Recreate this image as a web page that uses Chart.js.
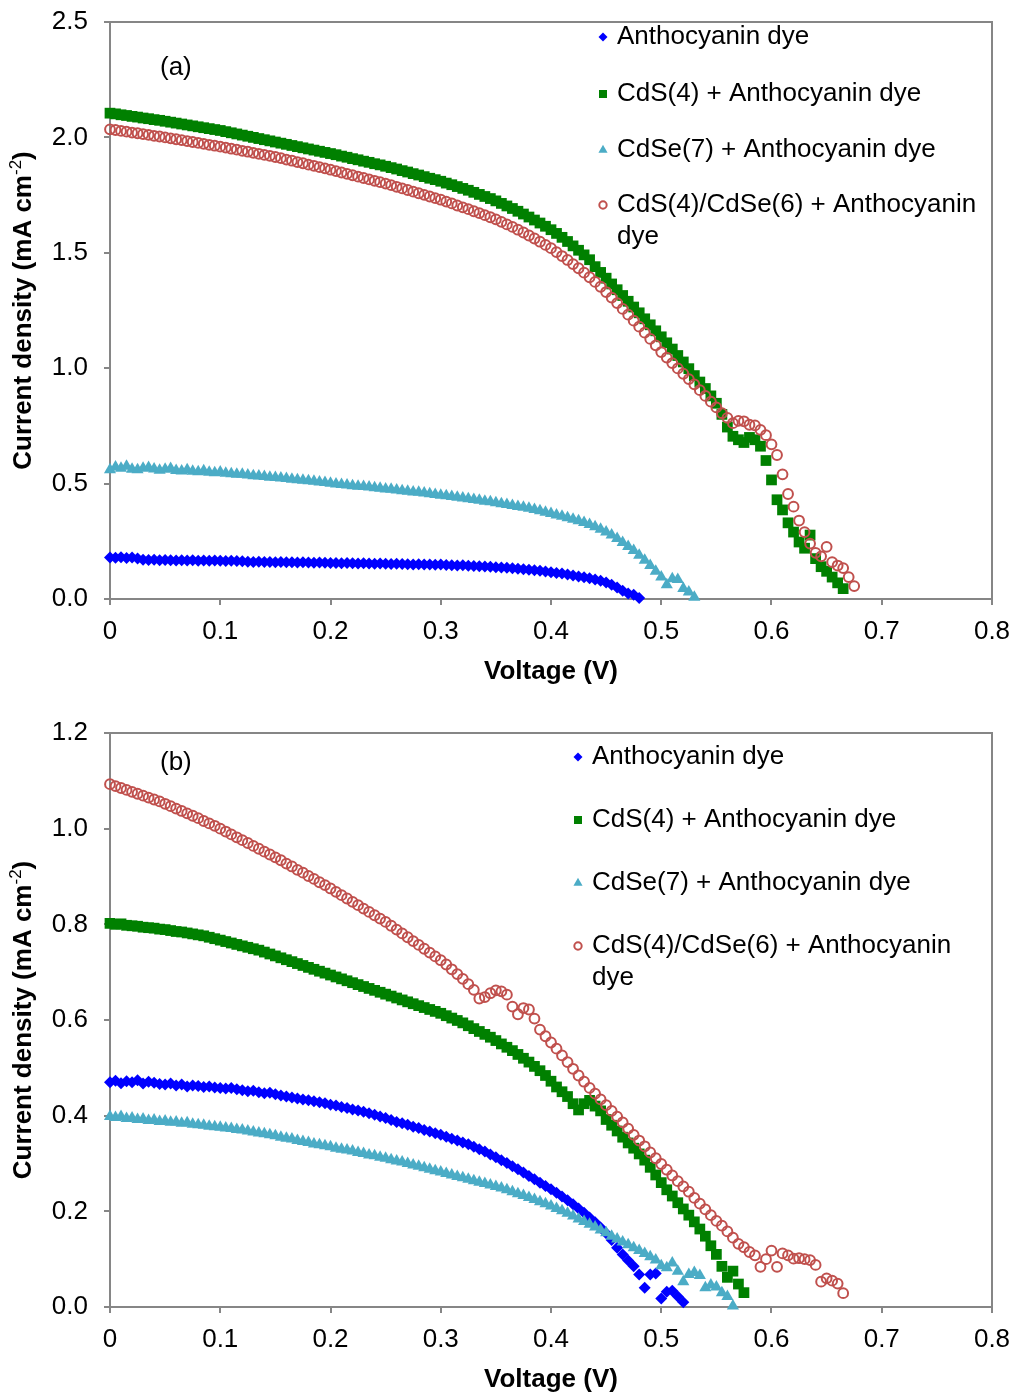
<!DOCTYPE html>
<html>
<head>
<meta charset="utf-8">
<script src="https://cdn.jsdelivr.net/npm/chart.js@4.4.0/dist/chart.umd.min.js"></script>
<style>
  html, body { margin: 0; background: #fff; overflow: hidden; }
  canvas { display: block; }
  #chartA { margin-top: -10px; }
</style>
</head>
<body>
<canvas id="chartA" width="1022" height="710"></canvas>
<canvas id="chartB" width="1022" height="695"></canvas>
<script>
// sweep voltage (V), shared by every series
const voltage = [0,0.005,0.01,0.015,0.02,0.025,0.03,0.035,0.04,0.045,0.05,0.055,0.06,0.065,0.07,0.075,0.08,0.085,0.09,0.095,
  0.1,0.105,0.11,0.115,0.12,0.125,0.13,0.135,0.14,0.145,0.15,0.155,0.16,0.165,0.17,0.175,0.18,0.185,0.19,0.195,
  0.2,0.205,0.21,0.215,0.22,0.225,0.23,0.235,0.24,0.245,0.25,0.255,0.26,0.265,0.27,0.275,0.28,0.285,0.29,0.295,
  0.3,0.305,0.31,0.315,0.32,0.325,0.33,0.335,0.34,0.345,0.35,0.355,0.36,0.365,0.37,0.375,0.38,0.385,0.39,0.395,
  0.4,0.405,0.41,0.415,0.42,0.425,0.43,0.435,0.44,0.445,0.45,0.455,0.46,0.465,0.47,0.475,0.48,0.485,0.49,0.495,
  0.5,0.505,0.51,0.515,0.52,0.525,0.53,0.535,0.54,0.545,0.55,0.555,0.56,0.565,0.57,0.575,0.58,0.585,0.59,0.595,
  0.6,0.605,0.61,0.615,0.62,0.625,0.63,0.635,0.64,0.645,0.65,0.655,0.66,0.665,0.67,0.675];

const seriesLabels = ['Anthocyanin dye', 'CdS(4) + Anthocyanin dye', 'CdSe(7) + Anthocyanin dye', 'CdS(4)/CdSe(6) + Anthocyanin dye'];
const xTickLabels = ['0', '0.1', '0.2', '0.3', '0.4', '0.5', '0.6', '0.7', '0.8'];
const yTickLabelsA = ['0.0', '0.5', '1.0', '1.5', '2.0', '2.5'];
const yTickLabelsB = ['0.0', '0.2', '0.4', '0.6', '0.8', '1.0', '1.2'];

// panel (a) current density, mA cm-2
const aAnthocyanin = [0.180,0.179,0.181,0.178,0.180,0.176,
  0.170,0.169,0.170,0.168,0.169,0.168,0.167,0.168,0.167,0.168,0.166,0.167,0.166,0.167,0.166,0.165,0.166,0.165,0.164,
  0.161,0.160,0.161,0.160,0.160,0.159,0.160,0.159,0.159,0.158,0.159,0.158,0.157,0.158,0.157,0.156,
  0.156,0.155,0.156,0.155,0.154,0.155,0.154,0.153,0.154,0.153,0.152,0.153,0.152,0.151,0.150,0.151,0.150,0.149,0.148,0.149,
  0.147,0.146,0.145,0.146,0.144,0.143,0.142,0.141,0.140,0.138,
  0.136,0.135,0.133,0.131,0.129,0.127,0.125,
  0.122,0.119,0.116,0.113,0.110,0.106,0.102,
  0.098,0.094,0.090,0.085,0.079,0.072,
  0.062,0.050,0.036,0.024,0.018,0.004];
const aCds = [2.105,2.102,2.098,2.095,2.091,2.088,2.084,2.081,2.077,2.074,2.070,
  2.066,2.062,2.058,2.054,2.050,2.046,2.042,2.038,2.034,2.030,
  2.025,2.020,2.015,2.010,2.005,2.000,1.995,1.990,1.985,1.980,
  1.975,1.970,1.965,1.960,1.955,1.950,1.945,1.940,1.935,1.930,
  1.925,1.919,1.914,1.908,1.903,1.897,1.892,1.886,1.881,1.875,
  1.869,1.863,1.856,1.850,1.843,1.837,1.830,1.823,1.817,1.810,
  1.802,1.795,1.787,1.779,1.771,1.762,1.753,1.744,1.735,1.725,
  1.714,1.703,1.692,1.680,1.668,1.655,1.642,1.629,1.615,1.600,
  1.584,1.567,1.549,1.530,1.511,1.491,1.470,1.440,1.415,1.390,
  1.365,1.340,1.315,1.290,1.265,1.240,1.214,1.188,1.162,1.136,
  1.110,1.083,1.055,1.027,0.998,0.968,0.940,0.912,0.880,0.848,
  0.800,0.745,0.705,0.690,0.678,0.700,0.690,0.662,0.600,0.516,
  0.430,0.386,0.330,0.290,0.247,0.220,0.277,0.175,0.140,0.120,0.095,0.070,0.045];
const aCdse = [0.560,0.572,0.566,0.575,0.562,0.560,0.566,0.570,0.563,0.558,0.562,0.565,0.557,0.555,0.560,0.553,0.551,0.556,0.549,0.547,0.550,
  0.545,0.543,0.540,0.541,0.537,0.534,0.533,0.531,0.528,0.526,0.524,0.522,0.519,0.517,0.515,0.512,0.510,0.507,0.505,0.502,
  0.498,0.496,0.494,0.491,0.489,0.487,0.485,0.482,0.480,0.477,0.475,0.472,0.469,0.467,0.464,0.462,0.459,0.456,0.453,0.450,
  0.447,0.444,0.441,0.438,0.434,0.431,0.428,0.424,0.421,0.417,
  0.413,0.409,0.405,0.401,0.397,0.393,0.388,
  0.382,0.376,0.370,0.364,0.358,0.352,0.346,
  0.339,0.331,0.323,0.313,0.302,0.290,
  0.277,0.262,0.245,0.228,0.210,0.190,
  0.168,0.145,0.120,0.095,0.062,0.088,
  0.085,0.045,0.030,0.008];
const aCdsCdse = [2.035,2.032,2.028,2.025,2.021,2.018,2.014,2.011,2.007,2.004,2.000,
  1.996,1.992,1.988,1.984,1.980,1.976,1.972,1.968,1.964,1.960,
  1.956,1.951,1.947,1.942,1.938,1.933,1.929,1.924,1.920,1.915,
  1.910,1.904,1.899,1.893,1.888,1.882,1.877,1.871,1.866,1.860,
  1.854,1.848,1.842,1.836,1.830,1.824,1.818,1.812,1.806,1.800,
  1.793,1.786,1.779,1.772,1.765,1.758,1.751,1.744,1.737,1.730,
  1.722,1.714,1.705,1.697,1.689,1.680,1.672,1.663,1.654,1.645,
  1.634,1.623,1.612,1.600,1.588,1.575,1.562,1.548,1.534,1.520,
  1.503,1.486,1.469,1.451,1.433,1.414,1.394,1.374,1.353,1.330,
  1.306,1.282,1.257,1.232,1.206,1.180,1.154,1.127,1.099,1.070,
  1.046,1.022,0.999,0.976,0.953,0.930,
  0.905,0.880,0.855,0.830,
  0.805,0.785,0.762,0.772,0.770,0.755,0.752,0.733,0.710,0.670,
  0.624,0.540,0.455,0.400,0.340,0.290,0.240,0.200,0.185,0.226,
  0.160,0.145,0.134,0.095,0.056];

// panel (b) current density, mA cm-2
const bAnthocyanin = [0.470,0.473,0.468,0.472,0.470,0.474,0.467,0.471,0.469,0.466,0.465,
  0.467,0.463,0.465,0.461,0.463,0.462,0.460,0.461,0.459,0.458,
  0.457,0.458,0.455,0.453,0.451,0.452,0.449,0.447,0.448,0.445,
  0.442,0.440,0.438,0.436,0.434,0.432,0.430,0.428,0.426,0.423,
  0.421,0.418,0.416,0.413,0.411,0.408,0.405,0.402,0.398,0.395,
  0.391,0.387,0.384,0.381,0.377,0.374,0.370,0.367,0.363,0.360,
  0.356,0.352,0.348,0.344,0.340,0.335,0.330,0.325,0.319,0.313,
  0.307,0.301,0.294,0.288,0.281,0.274,0.267,0.260,0.253,0.246,
  0.239,0.231,0.223,0.215,0.206,0.197,0.187,0.177,0.166,0.154,
  0.140,0.124,0.110,0.097,0.085,0.068,0.040,0.068,0.070,0.018,
  0.032,0.034,0.022,0.010];
const bCds = [0.802,0.800,0.801,0.798,0.797,0.796,0.794,0.793,0.792,0.790,0.789,
  0.787,0.785,0.784,0.782,0.780,0.778,0.776,0.773,0.770,0.767,
  0.764,0.761,0.758,0.755,0.752,0.749,0.746,0.742,0.738,0.734,
  0.730,0.726,0.722,0.718,0.714,0.710,0.706,0.702,0.698,0.694,
  0.690,0.686,0.682,0.678,0.674,0.670,0.666,0.662,0.658,0.654,
  0.650,0.646,0.642,0.638,0.634,0.630,0.626,0.622,0.618,0.614,
  0.609,0.604,0.599,0.594,0.588,0.582,0.576,0.570,0.564,0.557,
  0.550,0.543,0.536,0.528,0.520,0.512,0.503,0.494,0.484,0.472,
  0.460,0.450,0.440,0.425,0.412,0.425,0.432,0.420,0.410,0.392,
  0.380,0.368,0.355,0.343,0.332,0.320,0.307,0.292,0.276,0.260,
  0.245,0.232,0.218,0.205,0.192,0.178,0.163,0.148,0.128,0.110,
  0.085,0.062,0.075,0.048,0.030];
const bCdse = [0.398,0.396,0.398,0.394,0.395,0.392,0.393,0.390,0.391,0.388,0.389,
  0.386,0.387,0.384,0.385,0.382,0.381,0.380,0.378,0.377,0.376,
  0.374,0.373,0.371,0.370,0.368,0.366,0.364,0.362,0.360,0.358,
  0.355,0.353,0.351,0.348,0.346,0.344,0.341,0.339,0.337,0.335,
  0.332,0.330,0.328,0.326,0.323,0.321,0.318,0.316,0.313,0.311,
  0.308,0.305,0.303,0.300,0.297,0.294,0.291,0.288,0.285,0.282,
  0.279,0.276,0.273,0.270,0.267,0.264,0.261,0.258,0.255,0.252,
  0.249,0.245,0.241,0.237,0.233,0.229,0.225,0.220,0.216,0.211,
  0.206,0.201,0.196,0.190,0.184,0.179,0.173,0.167,0.161,0.155,
  0.148,0.142,0.136,0.130,0.124,0.118,0.112,0.105,0.098,0.086,
  0.082,0.092,0.075,0.053,0.068,0.072,0.066,0.040,0.046,0.042,0.030,0.022,0.002];
const bCdsCdse = [1.093,1.089,1.085,1.081,1.077,1.073,1.069,1.065,1.061,1.057,1.052,
  1.047,1.042,1.037,1.032,1.027,1.022,1.016,1.011,1.006,1.000,
  0.994,0.988,0.982,0.976,0.970,0.964,0.958,0.952,0.946,0.940,
  0.934,0.927,0.921,0.914,0.908,0.901,0.895,0.888,0.882,0.875,
  0.868,0.861,0.854,0.847,0.840,0.833,0.826,0.819,0.812,0.805,
  0.797,0.789,0.781,0.773,0.765,0.757,0.749,0.741,0.733,0.725,
  0.716,0.706,0.696,0.686,0.675,0.663,0.645,0.648,0.656,0.662,
  0.660,0.653,0.628,0.612,0.625,0.622,0.603,0.580,0.566,0.553,
  0.540,0.526,0.512,0.498,0.484,0.471,0.458,0.446,0.434,0.422,
  0.410,0.398,0.386,0.373,0.360,0.348,0.336,0.323,0.311,0.299,
  0.287,0.275,0.263,0.252,0.241,0.228,0.216,0.204,0.192,0.180,
  0.170,0.158,0.145,0.132,0.125,0.115,0.108,0.084,0.100,0.118,
  0.084,0.112,0.108,0.101,0.102,0.100,0.098,0.088,0.053,0.060,0.055,0.049,0.029];

const FONT = 'Liberation Sans, Arial, Helvetica, sans-serif';
const axisGrey = '#868686';

const markerStyles = [
  { pointStyle: 'rectRot', radius: 6, fill: '#0000ff', stroke: '#0000ff', width: 0 },
  { pointStyle: 'rect', radius: 7.6, fill: '#008000', stroke: '#008000', width: 0 },
  { pointStyle: 'triangle', radius: 7, fill: '#4bacc6', stroke: '#4bacc6', width: 0 },
  { pointStyle: 'circle', radius: 4.9, fill: 'rgba(255,255,255,0)', stroke: '#c0504d', width: 2 }
];

function makeDataset(i, ys) {
  const st = markerStyles[i];
  return {
    label: seriesLabels[i],
    data: ys.map((y, k) => ({ x: voltage[k], y: y })),
    showLine: false,
    clip: false,
    order: 4 - i,
    pointStyle: st.pointStyle,
    pointRadius: st.radius,
    pointBackgroundColor: st.fill,
    pointBorderColor: st.stroke,
    pointBorderWidth: st.width,
    backgroundColor: st.fill,
    borderColor: st.stroke
  };
}

function wrapText(ctx, text, maxWidth) {
  const words = text.split(' ');
  const lines = [];
  let line = '';
  words.forEach(w => {
    const test = line ? line + ' ' + w : w;
    if (ctx.measureText(test).width > maxWidth && line) {
      lines.push(line);
      line = w;
    } else {
      line = test;
    }
  });
  lines.push(line);
  return lines;
}

const panelDecor = {
  id: 'panelDecor',
  beforeDatasetsDraw(chart) {
    const { ctx, chartArea: a } = chart;
    ctx.save();
    ctx.strokeStyle = axisGrey;
    ctx.lineWidth = 2;
    ctx.beginPath();
    ctx.moveTo(a.left, a.top);
    ctx.lineTo(a.right, a.top);
    ctx.lineTo(a.right, a.bottom);
    ctx.stroke();
    ctx.restore();
  },
  afterDraw(chart, args, opts) {
    const { ctx, chartArea: a } = chart;
    ctx.save();
    ctx.fillStyle = '#000';
    ctx.textBaseline = 'middle';

    // panel letter
    ctx.font = '26px ' + FONT;
    ctx.textAlign = 'left';
    ctx.fillText(opts.panel, 160, a.top + opts.panelDy);

    // legend
    opts.legendRows.forEach((rowY, i) => {
      const st = markerStyles[i];
      ctx.save();
      ctx.fillStyle = st.fill;
      ctx.strokeStyle = st.stroke;
      ctx.lineWidth = st.width;
      Chart.helpers.drawPoint(ctx, { pointStyle: st.pointStyle, radius: st.radius * 0.75, borderWidth: st.width, rotation: 0 }, opts.legendX, rowY);
      ctx.restore();
      ctx.font = '26px ' + FONT;
      ctx.fillStyle = '#000';
      const lines = wrapText(ctx, seriesLabels[i], 380);
      lines.forEach((ln, k) => ctx.fillText(ln, opts.legendX + 14, rowY + k * 32));
    });

    // x title
    ctx.font = 'bold 26px ' + FONT;
    ctx.textAlign = 'center';
    ctx.fillText('Voltage (V)', (a.left + a.right) / 2, a.bottom + 73);

    // y title with superscript
    const main = 'Current density (mA cm';
    const sup = '-2';
    const tail = ')';
    ctx.translate(24, (a.top + a.bottom) / 2);
    ctx.rotate(-Math.PI / 2);
    ctx.textAlign = 'left';
    ctx.font = 'bold 26px ' + FONT;
    const w1 = ctx.measureText(main).width;
    const w3 = ctx.measureText(tail).width;
    ctx.font = '17px ' + FONT;
    const w2 = ctx.measureText(sup).width;
    let x = -(w1 + w2 + w3) / 2;
    ctx.font = 'bold 26px ' + FONT;
    ctx.fillText(main, x, 0);
    x += w1;
    ctx.font = '17px ' + FONT;
    ctx.fillText(sup, x, -8);
    x += w2;
    ctx.font = 'bold 26px ' + FONT;
    ctx.fillText(tail, x, 0);
    ctx.restore();
  }
};

function makeChart(id, sets, yMax, yStep, yLabels, padTop, xAxisHeight, decor) {
  const tickFont = { family: FONT, size: 26 };
  return new Chart(document.getElementById(id), {
    type: 'scatter',
    data: { datasets: sets },
    options: {
      responsive: false,
      animation: false,
      events: [],
      layout: { padding: { top: padTop, right: 30, left: 0, bottom: 0 } },
      plugins: {
        legend: { display: false },
        tooltip: { enabled: false },
        panelDecor: decor
      },
      scales: {
        x: {
          type: 'linear', min: 0, max: 0.8,
          ticks: {
            stepSize: 0.1, color: '#000', font: tickFont, padding: 11,
            maxRotation: 0, autoSkip: false,
            callback: v => xTickLabels[Math.round(v * 10)]
          },
          grid: { drawOnChartArea: false, drawTicks: true, tickLength: 6, color: axisGrey, lineWidth: 2 },
          border: { display: true, color: axisGrey, width: 2 },
          afterFit: s => { s.height = xAxisHeight; }
        },
        y: {
          type: 'linear', min: 0, max: yMax,
          ticks: {
            stepSize: yStep, color: '#000', font: tickFont, padding: 16,
            callback: v => yLabels[Math.round(v / yStep)]
          },
          grid: { drawOnChartArea: false, drawTicks: true, tickLength: 6, color: axisGrey, lineWidth: 2 },
          border: { display: true, color: axisGrey, width: 2 },
          afterFit: s => { s.width = 110; }
        }
      }
    },
    plugins: [panelDecor]
  });
}

// canvas A sits 10px above the page top, so its own coordinates are page y + 10
makeChart('chartA',
  [makeDataset(0, aAnthocyanin), makeDataset(1, aCds), makeDataset(2, aCdse), makeDataset(3, aCdsCdse)],
  2.5, 0.5, yTickLabelsA, 32, 101,
  { panel: '(a)', panelDy: 46, legendX: 603, legendRows: [47, 104, 160, 215] });

makeChart('chartB',
  [makeDataset(0, bAnthocyanin), makeDataset(1, bCds), makeDataset(2, bCdse), makeDataset(3, bCdsCdse)],
  1.2, 0.2, yTickLabelsB, 33, 88,
  { panel: '(b)', panelDy: 30, legendX: 578, legendRows: [57, 120, 183, 246] });
</script>
</body>
</html>
